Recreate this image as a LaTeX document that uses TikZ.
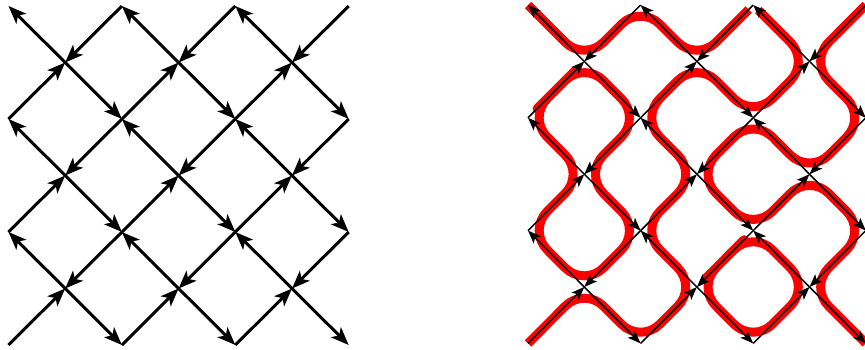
\documentclass[tikz,border=0pt]{standalone}
\usetikzlibrary{arrows.meta,calc}
\begin{document}
\begin{tikzpicture}[x=1pt,y=-1pt,
  thickarr/.style={line width=3pt,-{Stealth[length=18pt,width=14pt,inset=4.5pt]}},
  thinarr/.style={line width=1.5pt,-{Stealth[length=13pt,width=10pt,inset=3pt]}},
  redpath/.style={draw=red,line width=9pt,rounded corners=27pt,line cap=butt,line join=round}
]
\useasboundingbox (0,0) rectangle (865,349);
% lattice points
\foreach \i in {0,...,6}{
  \foreach \j in {0,...,6}{
    \coordinate (L-\i-\j) at ({8.5+56.7*\i},{6+56.5*\j});
    \coordinate (R-\i-\j) at ({528+56.3*\i},{5+56.4*\j});
  }
}
% red smoothed strands (right diagram)
\draw[redpath] (R-0-0) -- (R-1-1) -- (R-2-0) -- (R-3-1) -- ($(R-3-1)!0.92!(R-4-0)$);
\draw[redpath] ($(R-4-0)!0.09!(R-5-1)$) -- (R-5-1) -- (R-4-2) -- (R-3-1) -- (R-2-2) -- (R-3-3) -- (R-2-4) -- (R-3-5) -- (R-2-6) -- (R-1-5) -- (R-0-6);
\draw[redpath] (R-6-0) -- (R-5-1) -- (R-6-2) -- (R-5-3) -- (R-4-2) -- (R-3-3) -- (R-4-4) -- (R-5-3) -- (R-6-4) -- (R-5-5) -- (R-6-6);
\draw[redpath] ($(R-0-2)!0.5!(R-1-1)$) -- (R-1-1) -- (R-2-2) -- (R-1-3) -- (R-2-4) -- (R-1-5) -- (R-0-4) -- (R-1-3) -- (R-0-2) -- cycle;
\draw[redpath] ($(R-4-4)!0.5!(R-3-5)$) -- (R-3-5) -- (R-4-6) -- (R-5-5) -- (R-4-4) -- cycle;
% arrows on both lattices
\foreach \P/\sty in {L/thickarr,R/thinarr}{
  \foreach \i in {0,...,5}{
    \foreach \j in {0,...,5}{
      \pgfmathtruncatemacro\ip{\i+1}
      \pgfmathtruncatemacro\jp{\j+1}
      \pgfmathtruncatemacro\s{mod(\i+\j,2)}
      \pgfmathtruncatemacro\o{mod(\j,2)}
      \ifnum\s=0
        \ifnum\o=1
          \draw[\sty] (\P-\i-\j) -- (\P-\ip-\jp);
        \else
          \draw[\sty] (\P-\ip-\jp) -- (\P-\i-\j);
        \fi
      \else
        \ifnum\o=0
          \draw[\sty] (\P-\ip-\j) -- (\P-\i-\jp);
        \else
          \draw[\sty] (\P-\i-\jp) -- (\P-\ip-\j);
        \fi
      \fi
    }
  }
}
\end{tikzpicture}
\end{document}
